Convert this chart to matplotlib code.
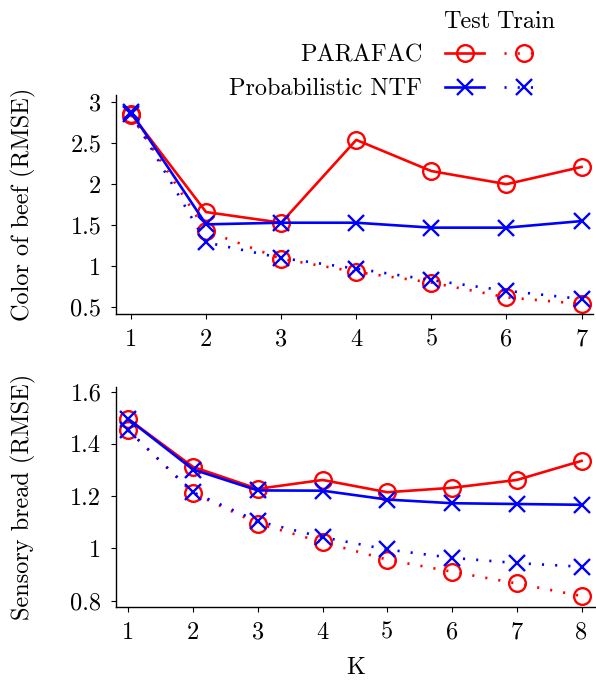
import matplotlib
matplotlib.use("Agg")
import matplotlib.pyplot as plt

plt.rcParams['font.family'] = ['cmr10', 'DejaVu Serif']
plt.rcParams['mathtext.fontset'] = 'cm'
plt.rcParams['axes.formatter.use_mathtext'] = True

# ---- data ----
k_beef = [1, 2, 3, 4, 5, 6, 7]
beef_parafac_test = [2.86, 1.66, 1.53, 2.54, 2.16, 2.00, 2.21]
beef_ntf_test = [2.88, 1.51, 1.53, 1.53, 1.47, 1.47, 1.55]
beef_parafac_train = [2.84, 1.43, 1.09, 0.93, 0.80, 0.62, 0.54]
beef_ntf_train = [2.86, 1.29, 1.10, 0.97, 0.83, 0.70, 0.60]

k_bread = [1, 2, 3, 4, 5, 6, 7, 8]
bread_parafac_test = [1.495, 1.312, 1.228, 1.262, 1.215, 1.232, 1.262, 1.335]
bread_ntf_test = [1.495, 1.302, 1.222, 1.221, 1.187, 1.173, 1.170, 1.167]
bread_parafac_train = [1.452, 1.212, 1.095, 1.024, 0.957, 0.911, 0.866, 0.818]
bread_ntf_train = [1.452, 1.215, 1.104, 1.043, 0.996, 0.964, 0.944, 0.930]

beef_yticks = [0.5, 1, 1.5, 2, 2.5, 3]
beef_yticklabels = ['0.5', '1', '1.5', '2', '2.5', '3']
bread_yticks = [0.8, 1.0, 1.2, 1.4, 1.6]
bread_yticklabels = ['0.8', '1', '1.2', '1.4', '1.6']

RED = '#ff0000'
BLUE = '#0000ff'
FS = 17.5

fig = plt.figure(figsize=(5.96, 6.8), dpi=100)
ax1 = fig.add_axes([0.1946, 0.538, 0.80, 0.322])
ax2 = fig.add_axes([0.1946, 0.107, 0.805, 0.324])

def style(ax):
    for s in ['top', 'right']:
        ax.spines[s].set_visible(False)
    ax.tick_params(direction='out', length=3.5, width=0.8, labelsize=FS, pad=7)
    ax.spines['left'].set_linewidth(1.0)
    ax.spines['bottom'].set_linewidth(1.0)

lw = 1.9
ms = 12
mew = 1.7
dot = (0, (0.8, 4.2))

def draw(ax, k, pt, nt, ptr, ntr):
    h1, = ax.plot(k, pt, '-', color=RED, lw=lw, marker='o', ms=ms, mfc='none', mew=mew)
    h3, = ax.plot(k, ptr, linestyle=dot, color=RED, lw=lw, marker='o', ms=ms, mfc='none', mew=mew)
    h2, = ax.plot(k, nt, '-', color=BLUE, lw=lw, marker='x', ms=ms, mew=mew)
    h4, = ax.plot(k, ntr, linestyle=dot, color=BLUE, lw=lw, marker='x', ms=ms, mew=mew)
    return h1, h2, h3, h4

h = draw(ax1, k_beef, beef_parafac_test, beef_ntf_test, beef_parafac_train, beef_ntf_train)
draw(ax2, k_bread, bread_parafac_test, bread_ntf_test, bread_parafac_train, bread_ntf_train)

ax1.set_xlim(0.80, 7.15)
ax1.set_ylim(0.415, 3.085)
ax1.set_xticks(k_beef)
ax1.set_xticklabels([str(v) for v in k_beef])
ax1.set_yticks(beef_yticks)
ax1.set_yticklabels(beef_yticklabels)
ax1.set_ylabel('Color of beef (RMSE)', fontsize=FS)
ax1.yaxis.set_label_coords(-0.168, 0.5)

ax2.set_xlim(0.81, 8.22)
ax2.set_ylim(0.775, 1.618)
ax2.set_xticks(k_bread)
ax2.set_xticklabels([str(v) for v in k_bread])
ax2.set_yticks(bread_yticks)
ax2.set_yticklabels(bread_yticklabels)
ax2.set_ylabel('Sensory bread (RMSE)', fontsize=FS)
ax2.yaxis.set_label_coords(-0.167, 0.5)
ax2.set_xlabel('K', fontsize=FS, labelpad=9)

style(ax1)
style(ax2)

leg = fig.legend([h[0], h[1], h[2], h[3]],
                 ['PARAFAC', 'Probabilistic NTF', '', ''],
                 ncol=2, markerfirst=False, frameon=False, fontsize=FS,
                 loc='upper right', bbox_to_anchor=(0.911, 0.935),
                 handlelength=1.6, handletextpad=0.95, columnspacing=-0.13,
                 labelspacing=0.48, borderaxespad=0, borderpad=0)
fig.text(0.7836, 0.968, 'Test', fontsize=FS, ha='center', va='center')
fig.text(0.8826, 0.968, 'Train', fontsize=FS, ha='center', va='center')

fig.savefig('out.png', dpi=100)
